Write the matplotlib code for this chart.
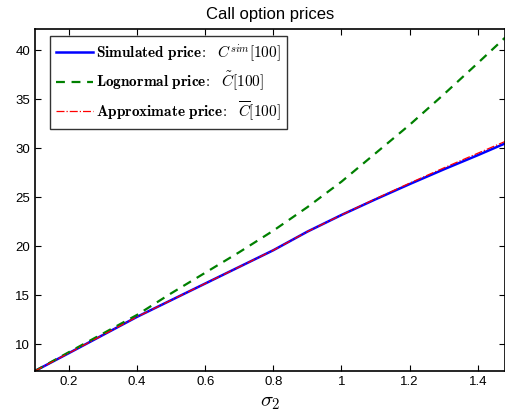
import matplotlib
matplotlib.use('Agg')
import matplotlib.pyplot as plt
import numpy as np

# values
sigma2 = [0.1, 0.2, 0.3, 0.4, 0.5, 0.6, 0.7, 0.8, 0.9, 1.0, 1.1, 1.2, 1.3, 1.4, 1.48]
sim_price = [7.27, 9.1, 10.95, 12.8, 14.5, 16.2, 17.9, 19.6, 21.5, 23.2, 24.8, 26.35, 27.85, 29.3, 30.5]
logn_price = [7.27, 9.2, 11.1, 13.0, 15.2, 17.3, 19.4, 21.6, 24.0, 26.6, 29.5, 32.4, 35.5, 38.7, 41.3]
approx_price = [7.27, 9.1, 10.95, 12.8, 14.5, 16.2, 17.9, 19.6, 21.5, 23.2, 24.85, 26.45, 28.0, 29.5, 30.7]

plt.rcParams['font.family'] = ['Liberation Sans', 'DejaVu Sans']
plt.rcParams['mathtext.fontset'] = 'cm'

fig = plt.figure(figsize=(5.06, 4.19), dpi=100)
ax = fig.add_axes([0.069, 0.1146, 0.929, 0.8165])

ax.plot(sigma2, sim_price, color='#0000ff', lw=1.8,
        label=r'$\mathbf{Simulated\ price\!:}\ \ C^{sim}[100]$')
ax.plot(sigma2, logn_price, color='#008000', lw=1.6, ls=(0, (4, 3)),
        label=r'$\mathbf{Lognormal\ price\!:}\ \ \tilde{C}[100]$')
ax.plot(sigma2, approx_price, color='#ff0000', lw=0.9, ls='-.',
        label=r'$\mathbf{Approximate\ price\!:}\ \ \overline{C}[100]$')

ax.set_xlim(0.1, 1.48)
ax.set_ylim(7.27, 42.2)
ax.set_xticks([0.2, 0.4, 0.6, 0.8, 1.0, 1.2, 1.4])
ax.set_xticklabels(['0.2', '0.4', '0.6', '0.8', '1', '1.2', '1.4'])
ax.set_yticks([10, 15, 20, 25, 30, 35, 40])
ax.tick_params(direction='in', top=True, right=True, length=4, labelsize=9.5)
for s in ax.spines.values():
    s.set_linewidth(1.2)

ax.set_title('Call option prices', fontsize=12, pad=7)
ax.set_xlabel(r'$\sigma_2$', fontsize=15, labelpad=4)

leg = ax.legend(loc='upper left', fontsize=11, fancybox=False, edgecolor='black',
                handlelength=2.4, labelspacing=0.4, borderpad=0.4, handletextpad=0.2,
                borderaxespad=0, bbox_to_anchor=(0.032, 0.98))
leg.get_frame().set_linewidth(1.0)

fig.savefig('out.png', dpi=100)
